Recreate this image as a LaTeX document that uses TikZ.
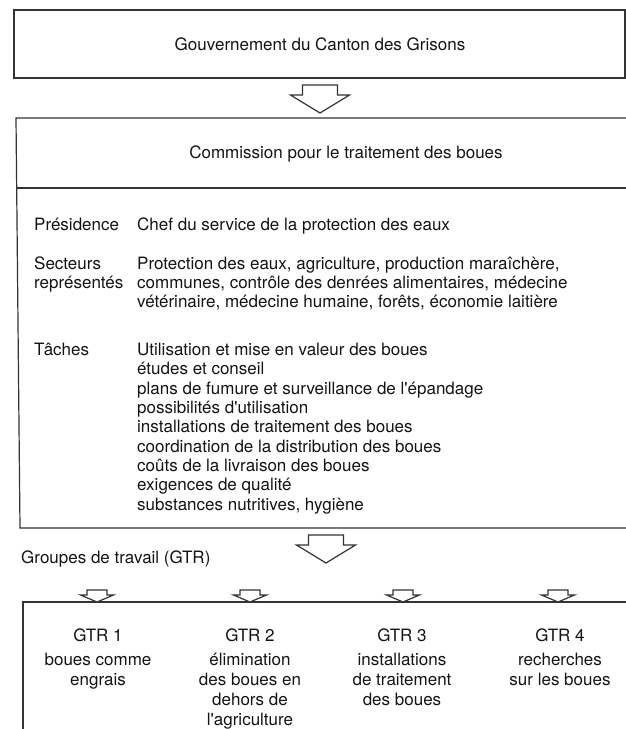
\documentclass[tikz,border=0pt]{standalone}
\usepackage{fontspec}
\setmainfont{TeX Gyre Heros}
\definecolor{ink}{gray}{0.08}
\definecolor{rulec}{gray}{0.2}
\newcommand{\apos}{\textquotesingle}
\begin{document}
\begin{tikzpicture}[x=1pt,y=-1pt,
  frame/.style={draw=rulec, line width=1.2pt},
  txt/.style={inner sep=0pt, text=ink, font=\fontsize{17}{19.3}\selectfont},
  lbl/.style={txt, anchor=base west},
  ctr/.style={txt, anchor=base},
  barrow/.style={draw=rulec, line width=1.2pt, fill=white, line join=miter},
  bigarrow/.pic={\draw[barrow] (-17.5,-28)--(17.5,-28)--(17.5,-18)--(29.5,-18)--(0,0)--(-29.5,-18)--(-17.5,-18)--cycle;},
  smallarrow/.pic={\draw[barrow] (-10,-12)--(10,-12)--(10,-7)--(16.5,-7)--(0,0)--(-16.5,-7)--(-10,-7)--cycle;}]
\useasboundingbox[fill=white] (0,0) rectangle (626,729);

% box 1
\node[frame, minimum width=611pt, minimum height=68pt, inner sep=0pt] (govbox) at (319.5,44) {};
\node[ctr] (gov) at (320,50) {Gouvernement du Canton des Grisons};

% arrow 1
\coordinate (a1tip) at (320,113);
\pic at (a1tip) {bigarrow};

% box 2
\coordinate (b2tr) at (627,118);
\coordinate (b2tl) at (16,118);
\coordinate (b2bl) at (20,528);
\coordinate (b2br) at (627,528);
\coordinate (b2dl) at (17,188);
\coordinate (b2dr) at (627,188);
\draw[frame] (b2tr) -- (b2tl) -- (b2bl) -- (b2br);
\draw[frame] (b2dl) -- (b2dr);
\node[ctr] (comm) at (346,158) {Commission pour le traitement des boues};

\node[lbl] (pres) at (34,230) {Présidence};
\node[lbl] (presv) at (137,230) {Chef du service de la protection des eaux};

\node[lbl] (sect1) at (34,269) {Secteurs};
\node[lbl] (sect2) at (34,288.3) {représentés};
\node[lbl] (secv1) at (137,269) {Protection des eaux, agriculture, production maraîchère,};
\node[lbl] (secv2) at (137,288.3) {communes, contrôle des denrées alimentaires, médecine};
\node[lbl] (secv3) at (137,307.6) {vétérinaire, médecine humaine, forêts, économie laitière};

\node[lbl] (taches) at (34,355.6) {Tâches};
\foreach [count=\i from 0] \t in {Utilisation et mise en valeur des boues,
  études et conseil,
  plans de fumure et surveillance de l\apos épandage,
  possibilités d\apos utilisation,
  installations de traitement des boues,
  coordination de la distribution des boues,
  coûts de la livraison des boues,
  exigences de qualité,
  {substances nutritives, hygiène}}
  \node[lbl] (task\i) at (137,{355.6+19.3*\i}) {\t};

% arrow 2
\coordinate (a2tip) at (326,563);
\pic at (a2tip) {bigarrow};
\node[lbl] (groupes) at (21,563) {Groupes de travail (GTR)};

% box 3
\coordinate (b3tr) at (627,602);
\coordinate (b3tl) at (23,602);
\coordinate (b3bl) at (23,735);
\draw[frame] (b3tr) -- (b3tl) -- (b3bl);

\foreach \x in {97,250,403,558} \pic at (\x,602) {smallarrow};

\node[ctr] (g1) at (98,641) {GTR 1};
\node[ctr] (g1a) at (98,665) {boues comme};
\node[ctr] (g1b) at (98,685) {engrais};

\node[ctr] (g2) at (250,641) {GTR 2};
\node[ctr] (g2a) at (250,665) {élimination};
\node[ctr] (g2b) at (250,685) {des boues en};
\node[ctr] (g2c) at (250,705) {dehors de};
\node[ctr] (g2d) at (250,725) {l\apos agriculture};

\node[ctr] (g3) at (402,641) {GTR 3};
\node[ctr] (g3a) at (402,665) {installations};
\node[ctr] (g3b) at (402,685) {de traitement};
\node[ctr] (g3c) at (402,705) {des boues};

\node[ctr] (g4) at (560,641) {GTR 4};
\node[ctr] (g4a) at (560,665) {recherches};
\node[ctr] (g4b) at (560,685) {sur les boues};
\end{tikzpicture}
\end{document}
